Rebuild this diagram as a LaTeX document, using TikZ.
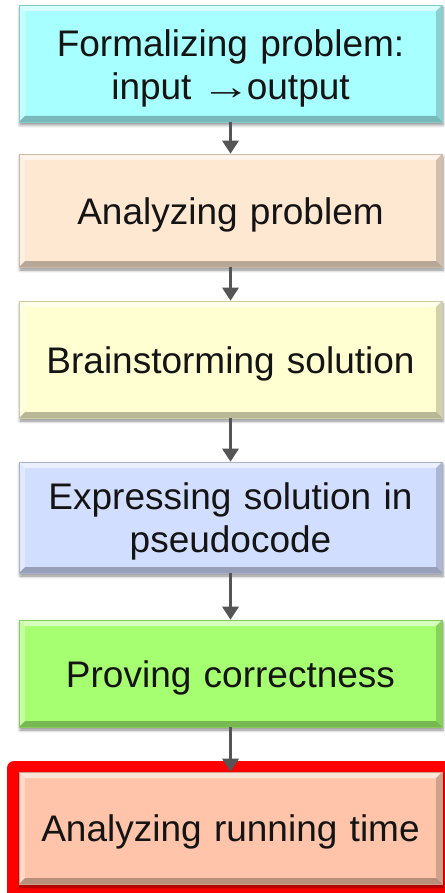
\documentclass[tikz,border=0pt]{standalone}
\usepackage{fontspec}
\setmainfont{Liberation Sans}
\usetikzlibrary{arrows.meta,shadows.blur}
\definecolor{cA}{HTML}{A8FFFF}
\definecolor{cB}{HTML}{FFE8D2}
\definecolor{cC}{HTML}{FFFFD2}
\definecolor{cD}{HTML}{D2DEFF}
\definecolor{cE}{HTML}{A6FF70}
\definecolor{cF}{HTML}{FFC4AA}
\definecolor{arrgray}{HTML}{555555}
\definecolor{txt}{HTML}{141414}
\tikzset{
  x=1pt,y=-1pt,
  stepbox/.style={draw=#1!80!black, line width=0.6pt, fill=#1, minimum width=423pt, inner sep=0pt,
    blur shadow={shadow xshift=1pt, shadow yshift=-3pt, shadow blur radius=3pt, shadow opacity=45},
    path picture={
      \fill[white,opacity=0.55] (path picture bounding box.north west) -- (path picture bounding box.north east)
        -- ([xshift=-6pt,yshift=-6pt]path picture bounding box.north east) -- ([xshift=6pt,yshift=-6pt]path picture bounding box.north west) -- cycle;
      \fill[white,opacity=0.35] (path picture bounding box.north west) -- ([xshift=6pt,yshift=-6pt]path picture bounding box.north west)
        -- ([xshift=6pt,yshift=6pt]path picture bounding box.south west) -- (path picture bounding box.south west) -- cycle;
      \fill[black,opacity=0.18] (path picture bounding box.north east) -- ([xshift=-6pt,yshift=-6pt]path picture bounding box.north east)
        -- ([xshift=-6pt,yshift=6pt]path picture bounding box.south east) -- (path picture bounding box.south east) -- cycle;
      \fill[black,opacity=0.28] (path picture bounding box.south west) -- ([xshift=6pt,yshift=6pt]path picture bounding box.south west)
        -- ([xshift=-6pt,yshift=6pt]path picture bounding box.south east) -- (path picture bounding box.south east) -- cycle;
    }},
  steptext/.style={text width=410pt, align=center, inner sep=0pt, text=txt,
    font=\fontsize{37}{43}\selectfont},
  arr/.style={draw=arrgray, line width=3pt, -{Triangle[width=16pt,length=13pt]}}
}
\begin{document}
\begin{tikzpicture}
\useasboundingbox (0,0) rectangle (444,893);
\node[stepbox=cA, minimum height=117pt] (b1) at (230.5,63.5) {};
\node[stepbox=cB, minimum height=113pt] (b2) at (230.5,210.5) {};
\node[stepbox=cC, minimum height=117pt] (b3) at (230.5,359.5) {};
\node[stepbox=cD, minimum height=111pt] (b4) at (230.5,517.5) {};
\node[stepbox=cE, minimum height=107pt] (b5) at (230.5,673.5) {};
\node[fill=red, rounded corners=7pt, minimum width=448pt, minimum height=144pt, inner sep=0pt] (fr) at (231,833) {};
\node[stepbox=cF, minimum height=112pt] (b6) at (230.5,828) {};
\node[steptext] (t1) at ([yshift=-5pt]b1.center) {Formalizing problem:\\input \hspace{-3pt}\scalebox{1.35}[1]{→}\hspace{-4pt}output};
\node[steptext] (t2) at ([yshift=-4pt]b2.center) {Analyzing problem};
\node[steptext] (t3) at ([yshift=-4pt]b3.center) {Brainstorming solution};
\node[steptext] (t4) at ([yshift=-4pt]b4.center) {Expressing solution in\\pseudocode};
\node[steptext] (t5) at ([yshift=-4pt]b5.center) {Proving correctness};
\node[steptext] (t6) at ([yshift=-4pt]b6.center) {Analyzing running time};
\draw[arr] (b1) -- (b2);
\draw[arr] (b2) -- (b3);
\draw[arr] (b3) -- (b4);
\draw[arr] (b4) -- (b5);
\draw[arr] (b5) -- (b6);
\end{tikzpicture}
\end{document}
